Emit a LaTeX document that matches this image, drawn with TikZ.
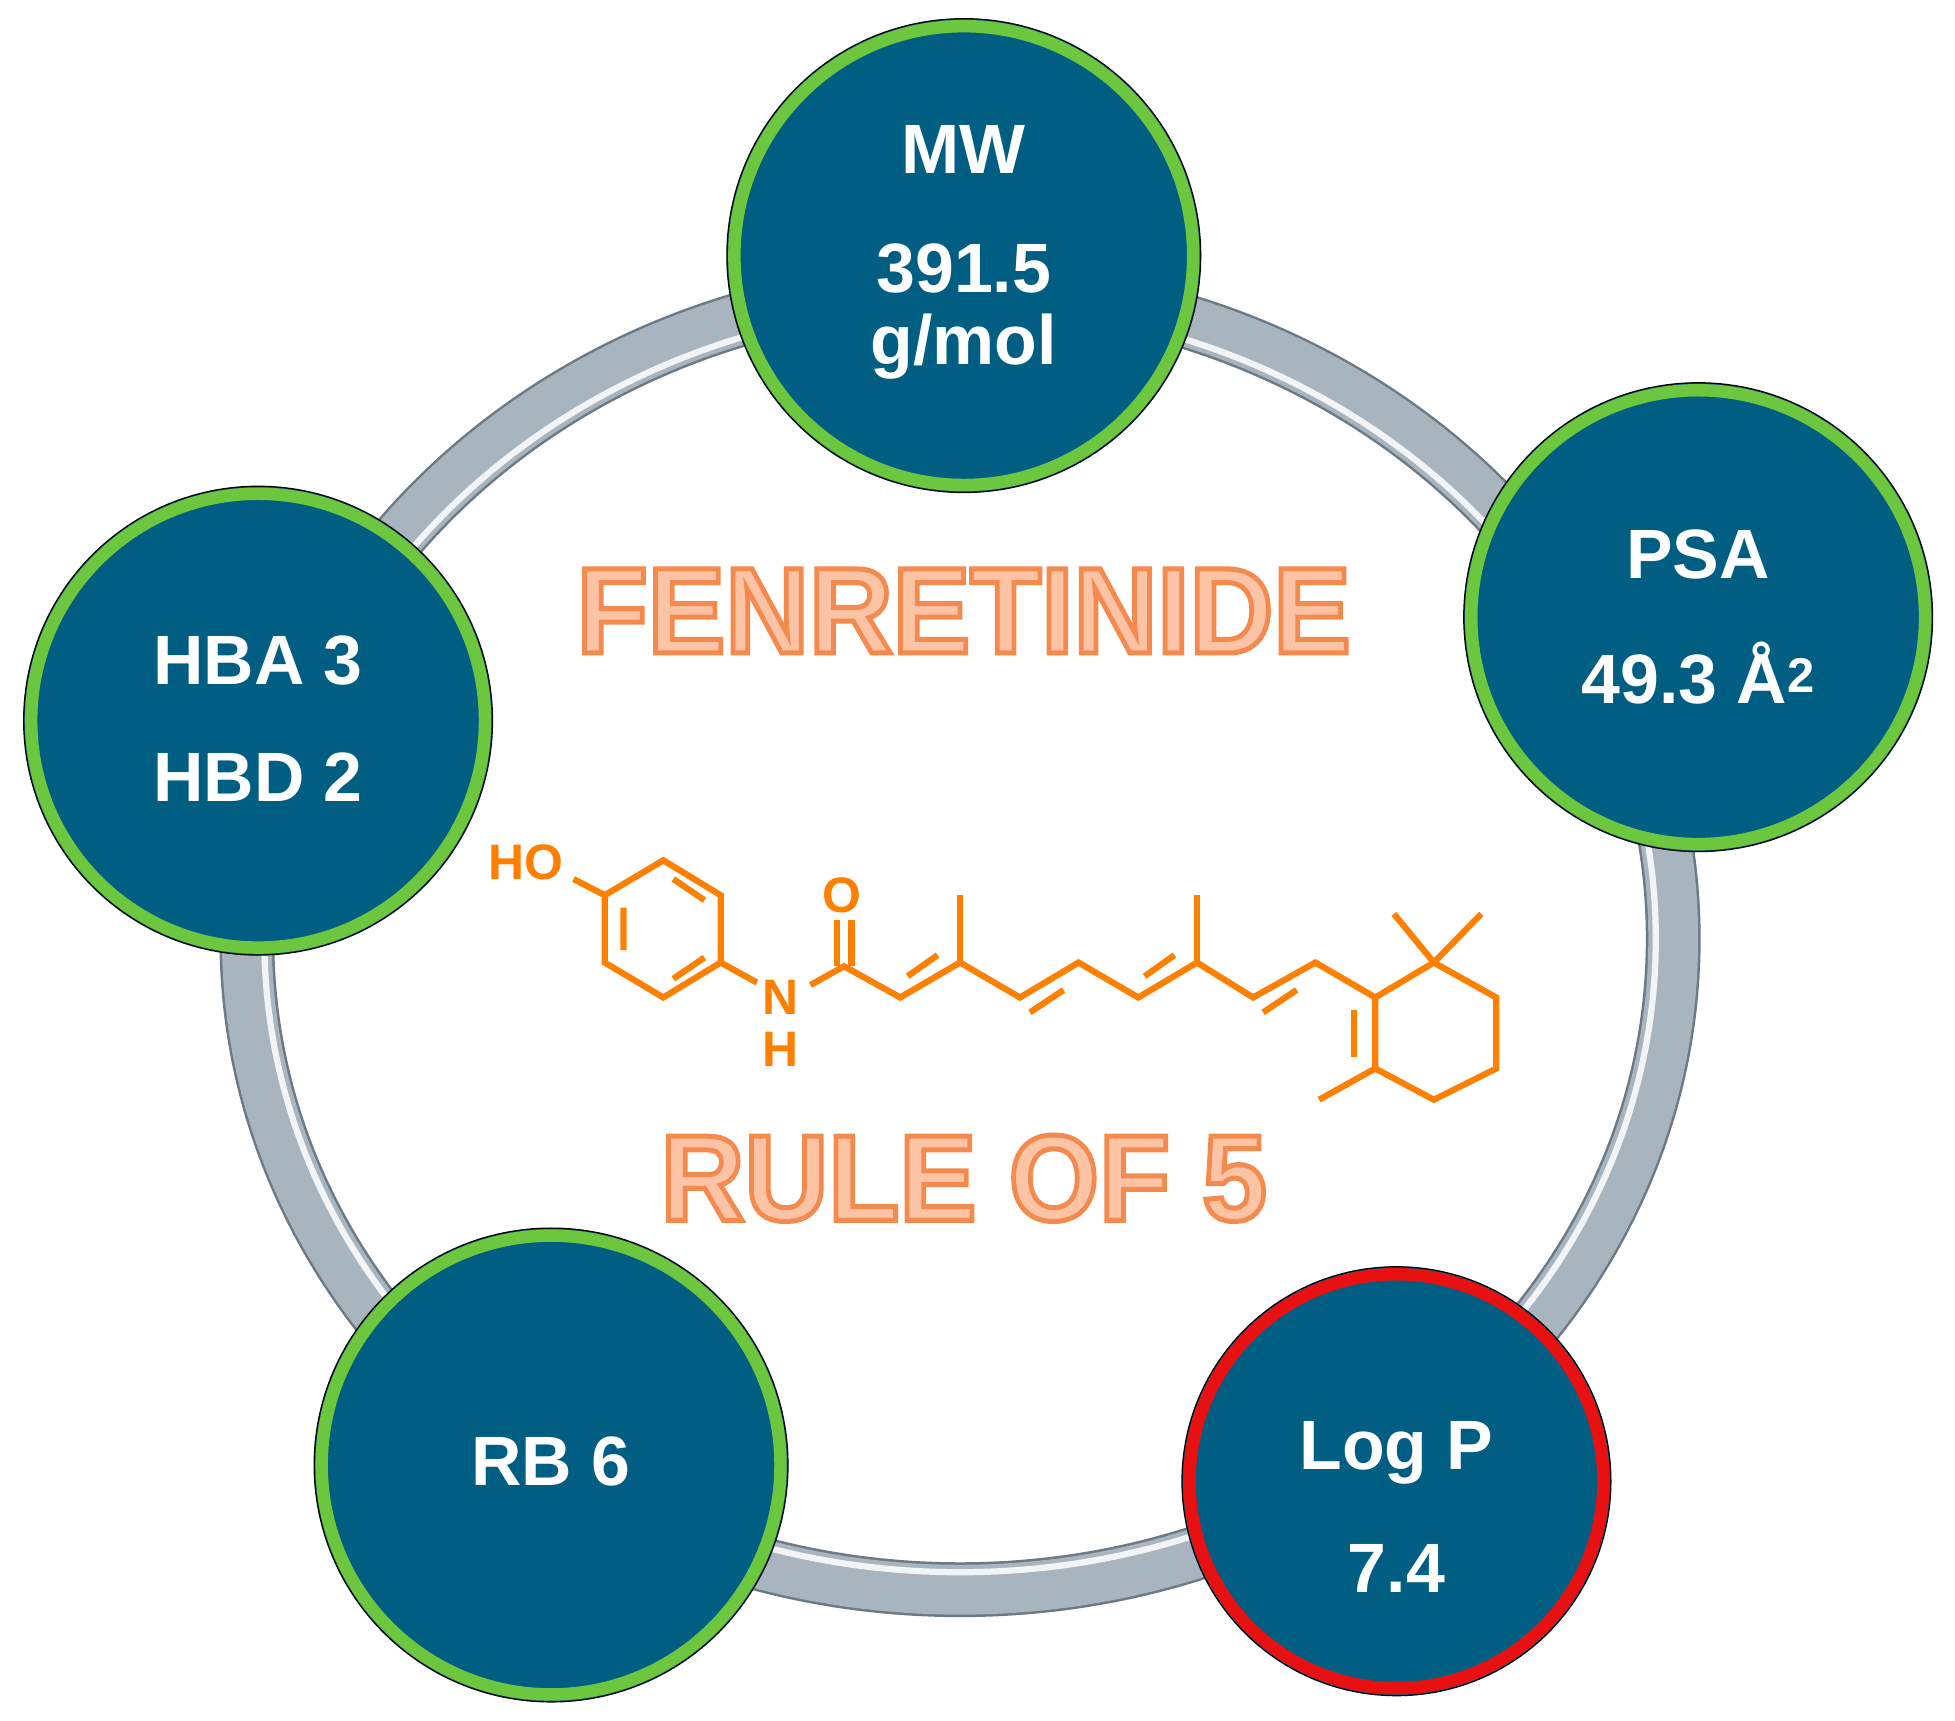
\documentclass[tikz,border=0pt]{standalone}
\usepackage{fontspec}
\setmainfont{Liberation Sans}
\definecolor{teal}{HTML}{005E82}
\definecolor{grn}{HTML}{6CC63E}
\definecolor{rd}{HTML}{E81010}
\definecolor{ring}{HTML}{A8B5BF}
\definecolor{ringd}{HTML}{6C7A86}
\definecolor{org}{HTML}{FF8000}
\definecolor{lor}{HTML}{FDC3A5}
\definecolor{oor}{HTML}{F58A4E}
\newcommand{\outl}[1]{\special{pdf:literal direct 2 Tr 4 w 0.961 0.541 0.306 RG}#1\special{pdf:literal direct 0 Tr 1 w 0 0 0 RG}}
\begin{document}
\begin{tikzpicture}[x=1pt,y=-1pt,
 prop/.style={circle,draw=black,line width=1pt,fill=teal,minimum size=#1,inner sep=0pt},
 lbl/.style={text=white,font=\fontsize{56}{66}\selectfont\bfseries,align=center},
 big/.style={text=lor,font=\fontsize{98}{100}\selectfont\bfseries},
 bond/.style={draw=org,line width=5pt,line cap=butt,line join=miter},
 atom/.style={text=org,font=\fontsize{40}{40}\selectfont\bfseries,inner sep=0pt}]
\useasboundingbox (0,0) rectangle (1568,1380);
% ring
\draw[ringd,line width=44pt] (770,753) ellipse [x radius=572,y radius=522];
\draw[ring,line width=40pt] (770,753) ellipse [x radius=572,y radius=522];
\draw[white!85!ring,line width=5pt] (770,753) ellipse [x radius=558,y radius=508];
% circles
\foreach \n/\x/\y/\r/\c in {mw/773/205/380/grn, psa/1362/495/376/grn, hba/207/578/376/grn, rb/442/1175/380/grn, lp/1120/1188/344/rd}{
 \node[prop=\r] (\n) at (\x,\y) {};
 \node[circle,draw=\c,line width=10pt,minimum size=\r-12,inner sep=0pt] (\n r) at (\x,\y) {};
}
\node[lbl] (t1) at (773,120) {MW};
\node[lbl] (t2) at (773,250) {391.5\\[-8pt]g/mol};
\node[lbl] (t3) at (1362,445) {PSA};
\node[lbl] (t4) at (1362,540) {49.3 Å\textsuperscript{2}};
\node[lbl] (t5) at (207,530) {HBA 3};
\node[lbl] (t6) at (207,623) {HBD 2};
\node[lbl] (t7) at (442,1172) {RB 6};
\node[lbl] (t8) at (1120,1165) {Log P};
\node[lbl] (t9) at (1120,1258) {7.4};
% molecule
\node[atom] (ho) at (422,692) {HO};
\node[atom] (o) at (675,718) {O};
\node[atom] (n) at (626,800) {N};
\node[atom] (h) at (626,842) {H};
\draw[bond] (460,705)--(485,718);
\draw[bond] (485,718)--(532,690)--(578,718)--(578,772)--(532,800)--(485,772)--cycle;
\draw[bond] (500,728)--(500,762) (540,705)--(565,722) (540,785)--(565,768);
\draw[bond] (578,772)--(607,788);
\draw[bond] (650,790)--(677,775)--(722,800)--(770,772)--(818,800)--(865,772)--(913,800)--(960,772)--(1005,800)--(1055,772)--(1103,800)--(1150,772)--(1200,800)--(1200,857)--(1150,882)--(1103,857)--(1103,800);
\draw[bond] (671,775)--(671,738) (683,775)--(683,738);
\draw[bond] (770,772)--(770,718) (960,772)--(960,718);
\draw[bond] (728,783)--(752,766) (826,812)--(853,794) (918,783)--(942,766) (1013,812)--(1040,794);
\draw[bond] (1086,810)--(1086,848);
\draw[bond] (1150,772)--(1118,733) (1150,772)--(1188,733) (1103,857)--(1058,882);
\node[big,xscale=0.95] (fen) at (773,490) {\outl{FENRETINIDE}};
\node[big,xscale=0.95] (rule) at (773,945) {\outl{RULE OF 5}};
\end{tikzpicture}
\end{document}
